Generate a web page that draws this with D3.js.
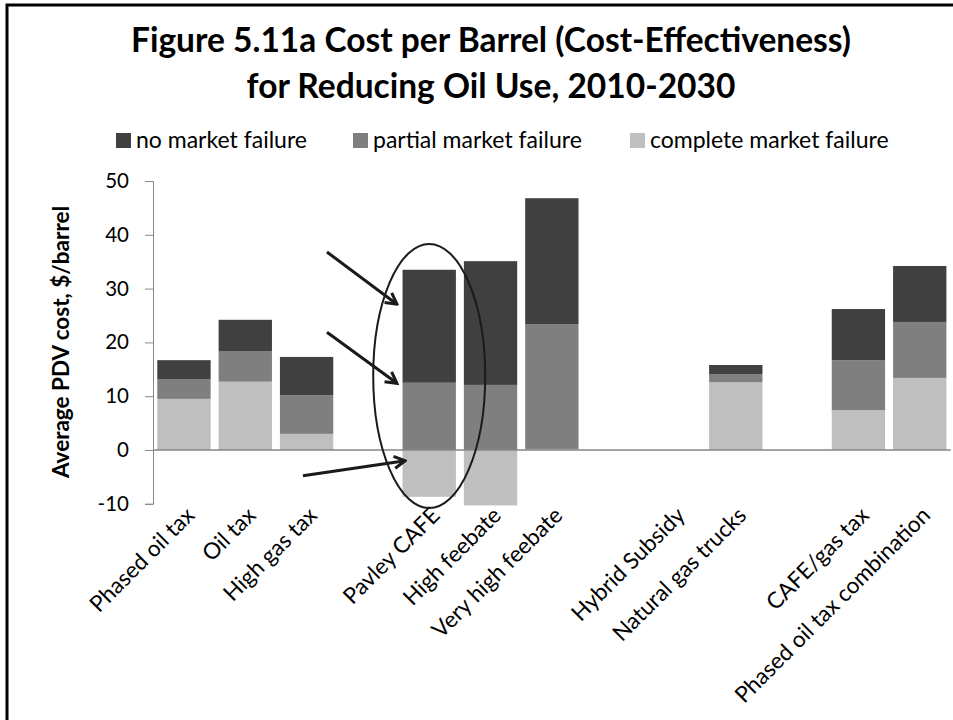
<!DOCTYPE html>
<html>
<head>
<meta charset="utf-8">
<script src="https://cdn.jsdelivr.net/npm/d3@7"></script>
<style>
  body { margin: 0; background: #fff; }
  svg { display: block; }
  text { font-family: Lato, "Open Sans", sans-serif; fill: #000; }
</style>
</head>
<body>
<script>
// categories, blank entries are the spacer slots between policy groups
const categories = ["Phased oil tax", "Oil tax", "High gas tax", "",
  "Pavley CAFE", "High feebate", "Very high feebate", "",
  "Hybrid Subsidy", "Natural gas trucks", "",
  "CAFE/gas tax", "Phased oil tax combination"];

const complete  = [9.5, 12.7, 3.0, 0, -8.7, -10.3, 0.2, 0, 0, 12.6, 0, 7.4, 13.4];
const partial   = [3.7,  5.7, 7.2, 0, 12.5,  12.1, 23.2, 0, 0,  1.5, 0, 9.3, 10.4];
const noFailure = [3.5,  5.8, 7.1, 0, 21.0,  23.0, 23.4, 0, 0,  1.7, 0, 9.5, 10.4];

const seriesNames = ["complete market failure", "partial market failure", "no market failure"];
const yTicks = [-10, 0, 10, 20, 30, 40, 50];

const width = 953, height = 720;

const svg = d3.select("body").append("svg")
    .attr("width", width)
    .attr("height", height);

// frame (open on right and bottom, as in the cropped original)
svg.append("path")
    .attr("d", `M7,${height} V5 H${width}`)
    .attr("fill", "none")
    .attr("stroke", "#000")
    .attr("stroke-width", 3);

// title
svg.append("text")
    .attr("x", 491).attr("y", 52)
    .attr("text-anchor", "middle")
    .style("font-weight", "bold")
    .style("font-size", "33.5px")
    .text("Figure 5.11a Cost per Barrel (Cost-Effectiveness)");
svg.append("text")
    .attr("x", 491).attr("y", 98)
    .attr("text-anchor", "middle")
    .style("font-weight", "bold")
    .style("font-size", "33.5px")
    .text("for Reducing Oil Use, 2010-2030");

const color = d3.scaleOrdinal()
    .domain(seriesNames)
    .range(["#bfbfbf", "#7f7f7f", "#404040"]);

const rows = categories.map((c, i) => ({
  i: i,
  "complete market failure": complete[i],
  "partial market failure": partial[i],
  "no market failure": noFailure[i]
}));

const stacked = d3.stack()
    .keys(seriesNames)
    .offset(d3.stackOffsetDiverging)(rows);

const x = d3.scaleBand()
    .domain(d3.range(categories.length))
    .range([153, 950.7])
    .paddingInner(0.13)
    .paddingOuter(0.07);

const y = d3.scaleLinear()
    .domain([-10, 50])
    .range([503.8, 181]);

// bars
svg.append("g")
  .selectAll("g")
  .data(stacked)
  .join("g")
    .attr("fill", d => color(d.key))
  .selectAll("rect")
  .data(d => d.filter(s => s[1] !== s[0]))
  .join("rect")
    .attr("x", d => x(d.data.i))
    .attr("width", x.bandwidth())
    .attr("y", d => y(Math.max(d[0], d[1])))
    .attr("height", d => Math.abs(y(d[0]) - y(d[1])));

// y axis
const yAxis = svg.append("g")
    .attr("transform", `translate(${x.range()[0]},0)`)
    .call(d3.axisLeft(y).tickValues(yTicks).tickFormat(d => String(d)).tickSize(8).tickPadding(16));
yAxis.select(".domain").attr("stroke", "#868686");
yAxis.selectAll(".tick line").attr("stroke", "#868686");
yAxis.selectAll(".tick text")
    .style("font-family", "Lato, sans-serif")
    .style("font-size", "20.5px")
    .attr("fill", "#000");

// zero line
svg.append("line")
    .attr("x1", x.range()[0]).attr("x2", x.range()[1])
    .attr("y1", y(0)).attr("y2", y(0))
    .attr("stroke", "#868686")
    .attr("stroke-width", 1.3);

svg.append("text")
    .attr("transform", `translate(69,342) rotate(-90)`)
    .attr("text-anchor", "middle")
    .style("font-weight", "bold")
    .style("font-size", "22.5px")
    .text("Average PDV cost, $/barrel");

// category labels
svg.append("g")
  .selectAll("text")
  .data(categories)
  .join("text")
    .attr("transform", (d, i) => `translate(${x(i) + x.bandwidth() / 2},${y(-10) + 1}) rotate(-45)`)
    .attr("text-anchor", "end")
    .attr("dy", "0.75em")
    .style("font-size", "22.5px")
    .text(d => d);

// legend
const legendItems = [
  {name: "no market failure", x: 116},
  {name: "partial market failure", x: 353},
  {name: "complete market failure", x: 630}
];
const legend = svg.append("g").selectAll("g")
  .data(legendItems)
  .join("g")
    .attr("transform", d => `translate(${d.x},133)`);
legend.append("rect")
    .attr("width", 15).attr("height", 15)
    .attr("fill", d => color(d.name));
legend.append("text")
    .attr("x", 20).attr("y", 14.5)
    .style("font-size", "23px")
    .text(d => d.name);

// annotation: ellipse and arrows around Pavley CAFE
const pav = categories.indexOf("Pavley CAFE");
const px0 = x(pav);
svg.append("ellipse")
    .attr("cx", px0 + x.bandwidth() / 2)
    .attr("cy", (y(38.3) + y(-10.8)) / 2)
    .attr("rx", 56)
    .attr("ry", (y(-10.8) - y(38.3)) / 2)
    .attr("fill", "none")
    .attr("stroke", "#1a1a1a")
    .attr("stroke-width", 2);

svg.append("defs").append("marker")
    .attr("id", "head")
    .attr("viewBox", "-12 -8 14 16")
    .attr("refX", 0).attr("refY", 0)
    .attr("markerWidth", 14).attr("markerHeight", 16)
    .attr("markerUnits", "userSpaceOnUse")
    .attr("orient", "auto")
  .append("path")
    .attr("d", "M-11,-6 L0,0 L-11,6")
    .attr("fill", "none")
    .attr("stroke", "#1a1a1a")
    .attr("stroke-width", 3);

const arrows = [
  {from: [-75.6, 36.8], to: [-5.6, 27.1]},
  {from: [-75.6, 21.9], to: [-5.6, 12.4]},
  {from: [-99.6, -4.8], to: [2.7, -2.0]}
];
svg.append("g").selectAll("line")
  .data(arrows)
  .join("line")
    .attr("x1", d => px0 + d.from[0]).attr("y1", d => y(d.from[1]))
    .attr("x2", d => px0 + d.to[0]).attr("y2", d => y(d.to[1]))
    .attr("stroke", "#1a1a1a")
    .attr("stroke-width", 3)
    .attr("marker-end", "url(#head)");
</script>
</body>
</html>
